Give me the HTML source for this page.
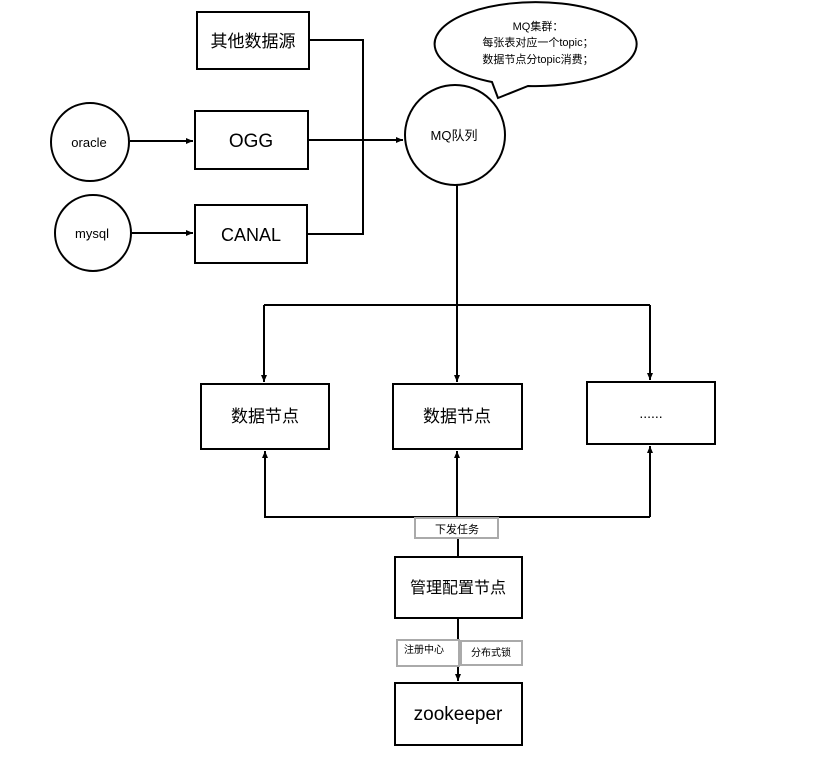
<!DOCTYPE html>
<html><head><meta charset="utf-8"><style>
html,body{margin:0;padding:0;background:#fff;}
text{font-family:"Liberation Sans","Noto Sans CJK SC",sans-serif;fill:#000;}
</style></head><body>
<svg width="834" height="772" viewBox="0 0 834 772" xmlns="http://www.w3.org/2000/svg">
<defs><marker id="a" markerWidth="8" markerHeight="8" refX="7" refY="4" orient="auto" markerUnits="userSpaceOnUse"><path d="M0,1 L7,4 L0,7 z" fill="#000"/></marker></defs>
<g fill="none" stroke="#000" stroke-width="2">
<rect x="197" y="12" width="112" height="57"/>
<rect x="195" y="111" width="113" height="58"/>
<rect x="195" y="205" width="112" height="58"/>
<circle cx="90" cy="142" r="39"/>
<circle cx="93" cy="233" r="38"/>
<circle cx="455" cy="135" r="50"/>
<path d="M498,98 L492,82 A101,42 0 1 1 528,86 Z" fill="#fff"/>
<rect x="201" y="384" width="128" height="65"/>
<rect x="393" y="384" width="129" height="65"/>
<rect x="587" y="382" width="128" height="62"/>
<rect x="395" y="557" width="127" height="61"/>
<rect x="395" y="683" width="127" height="62"/>
<path d="M309,40 H363 V234 H307"/>
<path d="M363,140 H308"/>
<path d="M130,141 H193" marker-end="url(#a)"/>
<path d="M132,233 H193" marker-end="url(#a)"/>
<path d="M308,140 H403" marker-end="url(#a)"/>
<path d="M457,185 V382" marker-end="url(#a)"/>
<path d="M264,305 H650"/>
<path d="M264,305 V382" marker-end="url(#a)"/>
<path d="M650,305 V380" marker-end="url(#a)"/>
<path d="M264,517 H650"/>
<path d="M265,517 V451" marker-end="url(#a)"/>
<path d="M457,517 V451" marker-end="url(#a)"/>
<path d="M650,517 V446" marker-end="url(#a)"/>
<path d="M458,538 V557"/>
<path d="M458,618 V681" marker-end="url(#a)"/>
</g>
<g fill="#fff" stroke="#aaa" stroke-width="2">
<rect x="415" y="518" width="83" height="20"/>
<rect x="397" y="640" width="62" height="26"/>
<rect x="461" y="641" width="61" height="24"/>
</g>
<g text-anchor="middle">
<text x="253" y="47" font-size="17">其他数据源</text>
<text x="251" y="147" font-size="19">OGG</text>
<text x="251" y="241" font-size="18">CANAL</text>
<text x="89" y="147" font-size="13">oracle</text>
<text x="92" y="238" font-size="13">mysql</text>
<text x="454" y="140" font-size="13">MQ队列</text>
<text x="538" y="30" font-size="11">MQ集群：</text>
<text x="538" y="46" font-size="11">每张表对应一个topic；</text>
<text x="538" y="63" font-size="11">数据节点分topic消费；</text>
<text x="265" y="422" font-size="17">数据节点</text>
<text x="457" y="422" font-size="17">数据节点</text>
<text x="651" y="418" font-size="14">......</text>
<text x="457" y="533" font-size="11">下发任务</text>
<text x="458" y="593" font-size="16">管理配置节点</text>
<text x="424" y="653" font-size="10">注册中心</text>
<text x="491" y="656" font-size="10">分布式锁</text>
<text x="458" y="720" font-size="19">zookeeper</text>
</g>
</svg>
</body></html>
